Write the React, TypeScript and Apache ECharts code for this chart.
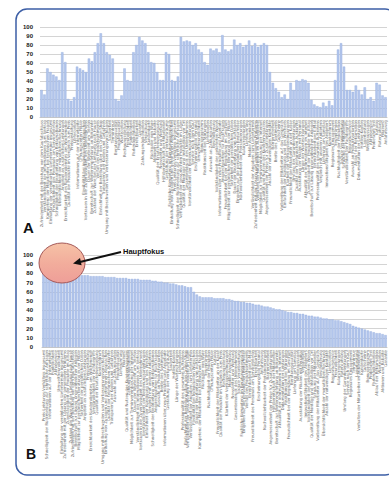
import React, { useEffect, useRef } from "react";
import * as echarts from "echarts";

// Item names (category labels), order of panel A
const itemLabels: string[] = [
  "Zufriedenheit mit der Beratung vor dem Kaufabschluss",
  "Verständlichkeit der Informationen zum Vertrag",
  "Kompetenz der Mitarbeiter bei technischen Fragen",
  "Einhaltung der vereinbarten Liefertermine insgesamt",
  "Freundlichkeit des Personals am Servicetelefon",
  "Schnelligkeit der Bearbeitung von Reklamationen",
  "Übersichtlichkeit der monatlichen Rechnung",
  "Angebot an zusätzlichen Leistungen",
  "Erreichbarkeit des Kundendienstes am Wochenende",
  "Qualität der Produkte im Vergleich zum Preis",
  "Preisgestaltung",
  "Lieferzeiten",
  "Informationen auf der Internetseite",
  "Öffnungszeiten Filiale",
  "Flexibilität bei individuellen Wünschen",
  "Vertrauen in die Zuverlässigkeit des Unternehmens",
  "Dauer der Wartezeit am Telefon",
  "Bereitschaft zur Weiterempfehlung an Bekannte",
  "Zustand der Ware bei der Lieferung nach Hause",
  "Vielfalt des Produktsortiments",
  "Einfachheit der Bestellung über den Online-Shop",
  "Transparenz der Kosten und Gebühren",
  "Umgang mit Beschwerden und Verbesserungsvorschlägen",
  "Sauberkeit",
  "Termintreue",
  "Beratungsqualität",
  "Produktqualität",
  "Wartezeiten",
  "Rechnungsstellung",
  "Freundlichkeit",
  "Pünktlichkeit",
  "Parkmöglichkeiten",
  "Erreichbarkeit",
  "Garantie",
  "Zahlungsmöglichkeiten",
  "Verpackung",
  "Kundenkarte",
  "Rückgabe von Ware",
  "Aktionen und Rabatte",
  "Qualität der Ersatzteilversorgung",
  "Newsletter und Werbung",
  "Hilfsbereitschaft der Mitarbeiter",
  "Gestaltung der Verkaufsräume",
  "Fachliche Kompetenz im Beratungsgespräch",
  "Einhaltung von Zusagen und getroffenen Absprachen",
  "Preis-Leistungs-Verhältnis insgesamt",
  "Schnelligkeit der Rückmeldung auf schriftliche Anfragen",
  "Verfügbarkeit der gewünschten Produkte im Lager",
  "Qualität der Montage und Installation vor Ort",
  "Gesamteindruck des Unternehmens",
  "Verständlichkeit der Bedienungsanleitungen",
  "Service nach dem Kauf",
  "Erscheinungsbild Personal",
  "Umweltfreundlichkeit",
  "Bonusprogramm",
  "Reaktionszeit bei Störungen",
  "Lieferkosten",
  "Auswahl an Zahlungsarten",
  "Beschilderung",
  "Vollständigkeit der gelieferten Waren",
  "Informationen über neue Produkte und Angebote",
  "Ansprechpartner für Rückfragen",
  "Freundlichkeit bei der Begrüßung im Geschäft",
  "Möglichkeit zur persönlichen Beratung in der Filiale",
  "Sicherheit der persönlichen Daten",
  "Dauer der Bearbeitung von Aufträgen",
  "Eingehen auf die persönlichen Bedürfnisse",
  "Nachvollziehbarkeit der Preisänderungen",
  "Kulanzregelungen",
  "Lieferumfang",
  "Mobile Anwendung",
  "Verlässlichkeit der Angaben zum Liefertermin",
  "Zufriedenheit mit der Lösung des gemeldeten Problems",
  "Verhalten der Mitarbeiter im Außendienst",
  "Möglichkeit zur Terminvereinbarung per Internet",
  "Qualität und Nutzen des Kundenmagazins",
  "Angemessenheit der Preise für Zusatzleistungen",
  "Anzahl der notwendigen Kontakte",
  "Barrierefreiheit",
  "Breite des Sortiments",
  "Gutscheine",
  "Vorbereitung der Mitarbeiter auf das Gespräch",
  "Einfachheit der Kündigung und des Wechsels",
  "Klarheit der Vertragsbedingungen",
  "Freundlichkeit der Mitarbeiter an der Kasse",
  "Umfang der Garantieleistungen",
  "Qualität der telefonischen Auskünfte",
  "Ausstattung der Filialen mit Personal",
  "Länge der Warteschlangen",
  "Aktualität der Informationen im Internet",
  "Zuverlässigkeit der Produkte im Alltag",
  "Bereitschaft zur Lösung ungewöhnlicher Anliegen",
  "Erreichbarkeit per E-Mail",
  "Professionalität des gesamten Auftretens",
  "Vergleich mit anderen Anbietern",
  "Lieferung am Samstag",
  "Innovationsfähigkeit des Anbieters",
  "Kundenforum",
  "Regionales Engagement",
  "Treueprämien",
  "Nachhaltigkeit der Produktion",
  "Soziale Verantwortung",
  "Schulung der Mitarbeiter",
  "Verständlichkeit der Fachbegriffe",
  "Reparaturservice",
  "Auswahl an Produktvarianten",
  "Ablauf der Reklamation",
  "Dokumentation der Leistungen",
  "Hotline-Kosten",
  "Lagerbestand",
  "Werbeaussagen",
  "Abholservice",
  "Probefahrt/Test",
  "Katalog",
  "Ratenzahlung",
  "Filialnetz",
  "Anfahrtsweg",
];

// Panel A values (same order as itemLabels)
const valuesA: number[] = [
  30, 25, 54, 50, 47, 45, 41, 72, 61, 20,
  18, 22, 56, 54, 52, 50, 65, 62, 72, 82,
  93, 82, 72, 69, 65, 20, 18, 24, 54, 41,
  40, 72, 80, 89, 85, 82, 72, 61, 60, 50,
  41, 41, 72, 70, 41, 40, 45, 89, 84, 85,
  84, 80, 82, 75, 72, 61, 58, 76, 74, 76,
  72, 91, 75, 73, 75, 86, 80, 82, 78, 80,
  85, 79, 82, 78, 80, 82, 80, 50, 38, 32,
  28, 22, 25, 20, 38, 30, 41, 40, 42, 41,
  38, 19, 14, 12, 11, 16, 12, 18, 13, 41,
  75, 82, 56, 30, 30, 28, 35, 30, 25, 33,
  20, 22, 18, 38, 36, 24, 22,
];

// Panel B: item order (indices into itemLabels) and sorted values
const orderB: number[] = [
  45, 46, 12, 30, 111, 53, 3, 72, 90, 18,
  0, 91, 63, 64, 7, 10, 8, 103, 39, 97,
  22, 44, 86, 21, 57, 26, 69, 115, 75, 34,
  74, 16, 1, 15, 50, 82, 94, 5, 61, 105,
  79, 60, 42, 23, 108, 88, 56, 93, 20, 47,
  71, 14, 65, 2, 37, 99, 100, 13, 113, 84,
  9, 28, 83, 70, 40, 49, 101, 43, 66, 19,
  92, 4, 32, 52, 116, 67, 78, 76, 41, 17,
  89, 107, 55, 62, 25, 95, 110, 87, 35, 96,
  59, 48, 102, 81, 58, 6, 77, 11, 104, 29,
  68, 114, 85, 51, 98, 24, 109, 73, 36, 80,
  54, 112, 31, 106, 27, 38, 33,
];

const valuesB: number[] = [
  81, 80, 80, 80, 79, 79, 79, 79, 79, 78,
  78, 78, 78, 78, 78, 78, 77, 77, 77, 77,
  77, 76, 76, 76, 76, 75, 75, 75, 75, 74,
  74, 74, 74, 73, 73, 73, 73, 72, 72, 71,
  71, 70, 70, 69, 69, 68, 67, 67, 66, 65,
  65, 60, 57, 55, 54, 54, 54, 54, 53, 53,
  53, 53, 52, 52, 51, 50, 50, 49, 49, 48,
  48, 47, 46, 46, 45, 44, 44, 43, 42, 41,
  41, 40, 39, 38, 38, 37, 37, 36, 36, 35,
  34, 34, 33, 33, 32, 31, 31, 30, 30, 29,
  29, 28, 27, 26, 25, 23, 22, 21, 20, 19,
  18, 17, 16, 15, 15, 14, 13,
];

const yTicks = { min: 0, max: 100, interval: 10 };
const annotationText = "Hauptfokus";
const panelLetters = ["A", "B"];

export default function App() {
  const ref = useRef<HTMLDivElement>(null);

  useEffect(() => {
    if (!ref.current) return;
    const chart = echarts.init(ref.current, undefined, { renderer: "svg" });
    const labelsB = orderB.map((i) => itemLabels[i]);

    const xAxisCommon = {
      type: "category" as const,
      axisTick: { show: false },
      axisLine: { show: true, lineStyle: { color: "#c8c8c8", width: 1 } },
      axisLabel: {
        interval: 0,
        rotate: 90,
        fontSize: 3.9,
        color: "#6e6e6e",
        margin: 3,
        fontFamily: "DejaVu Sans",
      },
    };
    const yAxisCommon = {
      type: "value" as const,
      min: yTicks.min,
      max: yTicks.max,
      interval: yTicks.interval,
      axisLine: { show: false },
      axisTick: { show: false },
      splitLine: { lineStyle: { color: "#d4d4d4", width: 1 } },
      axisLabel: {
        fontSize: 6,
        fontWeight: "bold" as const,
        color: "#1a1a1a",
        fontFamily: "Liberation Sans",
      },
    };
    const barStyle = {
      color: "#b3c6ec",
      borderColor: "#92acdf",
      borderWidth: 0.4,
    };

    const tip = [73, 263.5];
    chart.setOption({
      animation: false,
      backgroundColor: "#ffffff",
      grid: [
        { left: 40, top: 27, width: 347, height: 90 },
        { left: 42, top: 255, width: 345, height: 92 },
      ],
      xAxis: [
        { ...xAxisCommon, gridIndex: 0, data: itemLabels },
        { ...xAxisCommon, gridIndex: 1, data: labelsB },
      ],
      yAxis: [
        { ...yAxisCommon, gridIndex: 0, axisLabel: { ...yAxisCommon.axisLabel, margin: 7 } },
        { ...yAxisCommon, gridIndex: 1, axisLabel: { ...yAxisCommon.axisLabel, margin: 9 } },
      ],
      series: [
        {
          type: "bar",
          xAxisIndex: 0,
          yAxisIndex: 0,
          data: valuesA,
          barCategoryGap: "18%",
          itemStyle: barStyle,
        },
        {
          type: "bar",
          xAxisIndex: 1,
          yAxisIndex: 1,
          data: valuesB,
          barCategoryGap: "18%",
          itemStyle: barStyle,
        },
      ],
      graphic: [
        {
          type: "rect",
          z: 50,
          shape: { x: 16, y: 9, width: 380, height: 466, r: 11 },
          style: { fill: "none", stroke: "#3d5fa6", lineWidth: 1.5 },
        },
        {
          type: "text",
          z: 50,
          x: 23,
          y: 220,
          style: {
            text: panelLetters[0],
            font: "bold 15px 'Liberation Sans'",
            fill: "#111111",
            textVerticalAlign: "top",
          },
        },
        {
          type: "text",
          z: 50,
          x: 26,
          y: 447,
          style: {
            text: panelLetters[1],
            font: "bold 14px 'Liberation Sans'",
            fill: "#111111",
            textVerticalAlign: "top",
          },
        },
        {
          type: "ellipse",
          z: 60,
          shape: { cx: 62, cy: 263, rx: 23, ry: 20 },
          style: {
            fill: new echarts.graphic.LinearGradient(0, 0, 0, 1, [
              { offset: 0, color: "#f6c2a6" },
              { offset: 0.5, color: "#f2ad9c" },
              { offset: 1, color: "#ee9e98" },
            ]),
            stroke: "#a55a5a",
            lineWidth: 1,
          },
        },
        {
          type: "line",
          z: 61,
          shape: { x1: 121, y1: 252, x2: 80, y2: 262 },
          style: { stroke: "#111111", lineWidth: 2 },
        },
        {
          type: "polygon",
          z: 61,
          shape: {
            points: [
              tip,
              [81.6, 265.2],
              [80.0, 258.0],
            ],
          },
          style: { fill: "#111111" },
        },
        {
          type: "text",
          z: 61,
          x: 123,
          y: 247,
          style: {
            text: annotationText,
            font: "bold 7.5px 'Liberation Sans'",
            fill: "#111111",
            textVerticalAlign: "top",
          },
        },
      ],
    });
    return () => chart.dispose();
  }, []);

  return (
    <div
      ref={ref}
      style={{ position: "absolute", left: 0, top: 0, width: 389, height: 479, background: "#fff" }}
    />
  );
}
